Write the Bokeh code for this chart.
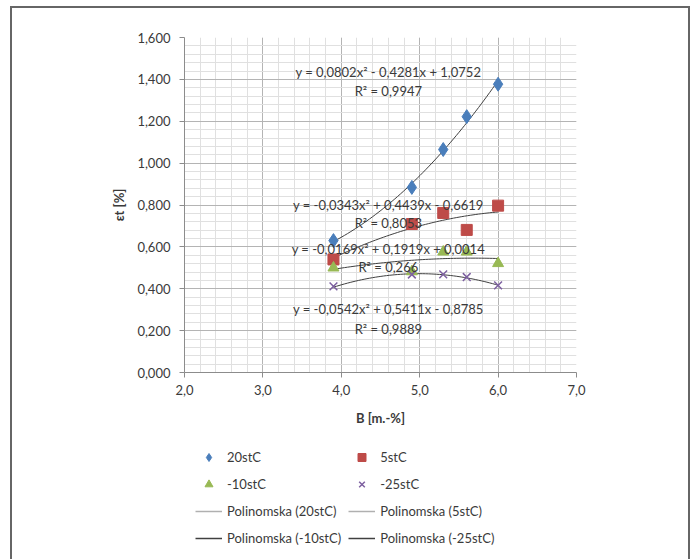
import numpy as np
from bokeh.plotting import figure
from bokeh.layouts import column
from bokeh.models import (Range1d, FixedTicker, Legend, LegendItem, Label,
                          ColumnDataSource)
from bokeh.embed import file_html
from bokeh.resources import INLINE

# ---------------- data ----------------
b_vals = [3.9, 4.9, 5.3, 5.6, 6.0]
e_20 = [0.630, 0.884, 1.065, 1.222, 1.377]
e_5 = [0.540, 0.709, 0.762, 0.681, 0.797]
e_m10 = [0.500, 0.482, 0.576, 0.576, 0.521]
e_m25 = [0.411, 0.468, 0.469, 0.456, 0.416]

# trend-line coefficients as printed on the chart (a, b, c of a*x^2 + b*x + c)
coef_20 = [0.0802, -0.4281, 1.0752]
coef_5 = [-0.0343, 0.4439, -0.6619]
coef_m10 = [-0.0169, 0.1919, 0.0014]
coef_m25 = [-0.0542, 0.5411, -0.8785]

eq_texts = ["y = 0,0802x² - 0,4281x + 1,0752", "y = -0,0343x² + 0,4439x - 0,6619",
            "y = -0,0169x² + 0,1919x + 0,0014", "y = -0,0542x² + 0,5411x - 0,8785"]
r2_texts = ["R² = 0,9947", "R² = 0,8053", "R² = 0,266", "R² = 0,9889"]

series_names = ["20stC", "5stC", "-10stC", "-25stC"]
trend_names = ["Polinomska (20stC)", "Polinomska (5stC)",
               "Polinomska (-10stC)", "Polinomska (-25stC)"]

x_ticks = [2.0, 3.0, 4.0, 5.0, 6.0, 7.0]
x_tick_labels = ["2,0", "3,0", "4,0", "5,0", "6,0", "7,0"]
y_ticks = [0.0, 0.2, 0.4, 0.6, 0.8, 1.0, 1.2, 1.4, 1.6]
y_tick_labels = ["0,000", "0,200", "0,400", "0,600", "0,800",
                 "1,000", "1,200", "1,400", "1,600"]

FONT = "Lato"
TXT = "#3a3a3a"

marker_styles = [dict(marker="diamond", size=14, fill_color="#4a7ebb", line_color="#4a7ebb"),
                 dict(marker="square", size=11, fill_color="#be4b48", line_color="#be4b48"),
                 dict(marker="triangle", size=11, fill_color="#98b954", line_color="#98b954"),
                 dict(marker="x", size=11, line_color="#7d60a0", line_width=1.5)]

# ---------------- main chart ----------------
p = figure(width=680, height=430, output_backend="svg", toolbar_location=None,
           x_range=Range1d(2, 7), y_range=Range1d(0, 1.6),
           min_border_left=174, min_border_right=114,
           min_border_top=31, min_border_bottom=64,
           background_fill_color="white", border_fill_alpha=0)
p.outline_line_color = None

x_minor = [round(2 + 0.2 * i, 2) for i in range(26)]
y_minor = [round(0.04 * i, 2) for i in range(41)]
p.xaxis.ticker = FixedTicker(ticks=x_ticks, minor_ticks=x_minor)
p.yaxis.ticker = FixedTicker(ticks=y_ticks, minor_ticks=y_minor)
p.xaxis.major_label_overrides = dict(zip(x_ticks, x_tick_labels))
p.yaxis.major_label_overrides = dict(zip(y_ticks, y_tick_labels))

for ax in (p.xaxis[0], p.yaxis[0]):
    ax.axis_line_color = "#8c8c8c"
    ax.major_tick_line_color = "#8c8c8c"
    ax.major_tick_out = 5
    ax.major_tick_in = 0
    ax.minor_tick_out = 0
    ax.minor_tick_in = 0
    ax.major_label_text_font = FONT
    ax.major_label_text_font_size = "13px"
    ax.major_label_text_color = TXT
    ax.axis_label_text_font = FONT
    ax.axis_label_text_font_size = "13px"
    ax.axis_label_text_font_style = "bold"
    ax.axis_label_text_color = TXT

p.xaxis.axis_label = "B [m.-%]"
p.yaxis.axis_label = "εt [%]"
p.xaxis.major_label_standoff = 7
p.yaxis.major_label_standoff = 9
p.xaxis.axis_label_standoff = 12
p.yaxis.axis_label_standoff = 7

p.xgrid.grid_line_color = "#b4b4b4"
p.ygrid.grid_line_color = "#b4b4b4"
p.xgrid.minor_grid_line_color = "#e0e0e0"
p.ygrid.minor_grid_line_color = "#e0e0e0"

xs = np.linspace(min(b_vals), max(b_vals), 60)
for coef in (coef_20, coef_5, coef_m10, coef_m25):
    p.line(xs, np.polyval(coef, xs), line_color="#404040", line_width=1)

for ys, st in zip((e_20, e_5, e_m10, e_m25), marker_styles):
    p.scatter(b_vals, ys, **st)

eq_y = [1.434, 0.798, 0.588, 0.302]
r2_y = [1.346, 0.714, 0.503, 0.210]
for t, yy in zip(eq_texts + r2_texts, eq_y + r2_y):
    p.add_layout(Label(x=4.6, y=yy, text=t, text_align="center", text_baseline="middle",
                       text_font=FONT, text_font_size="13px", text_color=TXT))

# ---------------- legend strip ----------------
pl = figure(width=680, height=123, output_backend="svg", toolbar_location=None,
            x_range=Range1d(0, 1), y_range=Range1d(0, 1),
            x_axis_type=None, y_axis_type=None,
            min_border_left=174, min_border_right=114, min_border_top=0, min_border_bottom=0,
            background_fill_alpha=0, border_fill_alpha=0)
pl.outline_line_color = None
pl.xgrid.visible = False
pl.ygrid.visible = False

# legend swatches only (no visible points: NaN placeholders)
empty = ColumnDataSource(data=dict(x=[np.nan], y=[np.nan]))
leg_marks = [pl.scatter("x", "y", source=empty, **st) for st in marker_styles]
leg_lines = [pl.line("x", "y", source=empty, line_color=c, line_width=1.5)
             for c in ("#b0b0b0", "#b0b0b0", "#404040", "#404040")]

items = []
for name, r in zip(series_names, leg_marks):
    items.append(LegendItem(label=name, renderers=[r]))
for name, r in zip(trend_names, leg_lines):
    items.append(LegendItem(label=name, renderers=[r]))

legend = Legend(items=items, ncols=2, orientation="horizontal",
                location=(11, 11), padding=0, margin=0,
                glyph_width=27, glyph_height=20, label_height=20,
                label_standoff=5, spacing=7,
                label_text_font=FONT, label_text_font_size="13px", label_text_color=TXT,
                background_fill_alpha=0, border_line_color=None)
pl.add_layout(legend, "center")

layout = column(p, pl)
layout.styles = {"margin-left": "10px", "margin-top": "6px",
                 "box-shadow": "inset 2px 2px 0 #666666, inset -2px 0 0 #666666",
                 "background": "white"}

open("out.html", "w").write(file_html(layout, INLINE))
